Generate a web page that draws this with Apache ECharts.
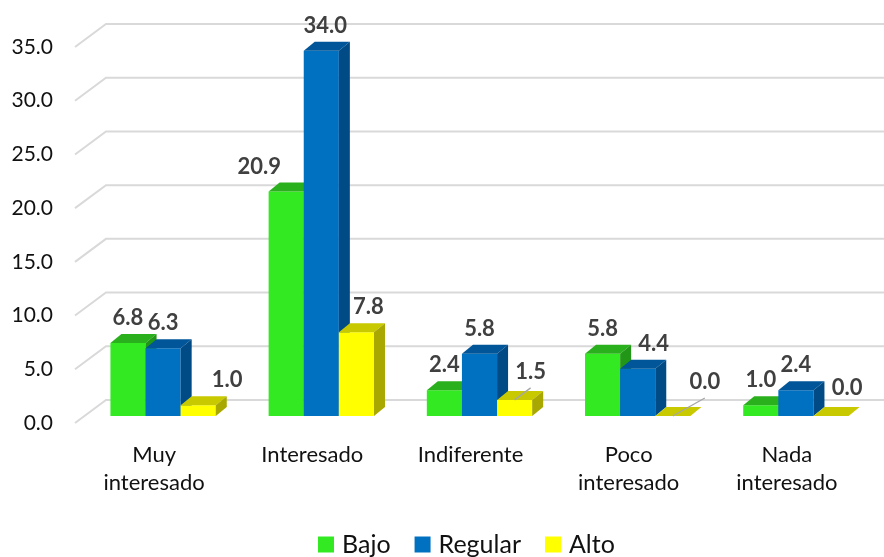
<!DOCTYPE html>
<html>
<head>
<meta charset="utf-8">
<title>Interés</title>
<script src="https://cdn.jsdelivr.net/npm/echarts/dist/echarts.min.js"></script>
<style>
  html, body { margin: 0; padding: 0; background: #fff; }
  #chart { width: 884px; height: 557px; }
</style>
</head>
<body>
<div id="chart"></div>
<script>
// datos
const categories = ['Muy\ninteresado', 'Interesado', 'Indiferente', 'Poco\ninteresado', 'Nada\ninteresado'];
const bajo = [6.8, 20.9, 2.4, 5.8, 1.0];
const regular = [6.3, 34.0, 5.8, 4.4, 2.4];
const alto = [1.0, 7.8, 1.5, 0.0, 0.0];
const yTicks = [0, 5, 10, 15, 20, 25, 30, 35];

// aspecto de cada serie (caras 3D y ajuste de etiquetas)
const looks = [
  { name: 'Bajo', values: bajo, front: '#33EA22', top: '#2AB01C', side: '#229616',
    nx: [0, -27, 0, 0, 0], ny: [0, 0, 0, 0, 0], leader: [0, 0, 0, 0, 0] },
  { name: 'Regular', values: regular, front: '#0070C0', top: '#005699', side: '#004A85',
    nx: [0, 4, 0, 16, 0], ny: [0, 0, 0, 0, 0], leader: [0, 0, 0, 0, 0] },
  { name: 'Alto', values: alto, front: '#FFFF00', top: '#C9C900', side: '#A8A800',
    nx: [29, 12, 16, 32, 16], ny: [0, 0, -3, -9, -3], leader: [0, 0, 1, 1, 0] }
];

const DX = 11, DY = 9;      // profundidad de la barra
const SHIFT_X = 9, SHIFT_Y = 7;  // barras algo detrás del plano frontal
const FONT = 'Lato';

function barItem(k) {
  const look = looks[k];
  return function (params, api) {
    const ci = api.value(0);
    const v = api.value(1);
    const base = api.coord([ci, 0]);
    const tp = api.coord([ci, v]);
    const band = api.size([1, 0])[0];
    const w = band * 0.222;
    const x = base[0] + SHIFT_X + (k - 1) * w - w / 2;
    const yb = base[1] - SHIFT_Y;
    const yt = tp[1] - SHIFT_Y;
    const z0 = k * 10;
    const children = [
      { type: 'rect', shape: { x: x, y: yt, width: w, height: yb - yt },
        style: { fill: look.front }, z2: z0 + 1 },
      { type: 'polygon', shape: { points: [[x, yt], [x + DX, yt - DY], [x + w + DX, yt - DY], [x + w, yt]] },
        style: { fill: look.top }, z2: z0 + 2 },
      { type: 'polygon', shape: { points: [[x + w, yt], [x + w + DX, yt - DY], [x + w + DX, yb - DY], [x + w, yb]] },
        style: { fill: look.side }, z2: z0 + 2 }
    ];
    const lx = x + w / 2 + look.nx[ci];
    const ly = yt - 25 + look.ny[ci];
    if (look.leader[ci]) {
      children.push({ type: 'line', shape: { x1: x + w / 2, y1: yt, x2: lx, y2: ly + 16 },
        style: { stroke: '#A6A6A6', lineWidth: 1.3 }, z2: 200 });
    }
    children.push({
      type: 'text', z2: 300,
      style: { text: v.toFixed(1), x: lx, y: ly, align: 'center', verticalAlign: 'middle',
        fill: '#404040', font: 'bold 22px ' + FONT }
    });
    return { type: 'group', children: children };
  };
}

function gridItem(params, api) {
  const cs = params.coordSys;
  const y = api.coord([0, api.value(1)])[1];
  const x0 = cs.x;
  return {
    type: 'polyline',
    shape: { points: [[x0, y], [x0 + 31, y - 23], [cs.x + cs.width + 20, y - 23]] },
    style: { stroke: '#D9D9D9', lineWidth: 2, fill: null }
  };
}

const series = [{
  type: 'custom', name: 'grid', z: 1, silent: true,
  renderItem: gridItem,
  data: yTicks.map(v => [0, v]),
  encode: { x: 0, y: 1 }
}];
looks.forEach((look, k) => {
  series.push({
    type: 'custom', name: look.name, z: 2,
    itemStyle: { color: look.front },
    renderItem: barItem(k),
    data: look.values.map((v, i) => [i, v]),
    encode: { x: 0, y: 1 }
  });
});

let myChart = echarts.init(document.getElementById('chart'));
myChart.setOption({
  animation: false,
  backgroundColor: '#fff',
  grid: { left: 75, right: 18, top: 47, bottom: 134, containLabel: false, outerBoundsMode: 'none' },
  legend: {
    data: ['Bajo', 'Regular', 'Alto'],
    top: 532, left: 318, padding: 0,
    icon: 'rect', itemWidth: 16, itemHeight: 16, itemGap: 24,
    textStyle: { fontSize: 25, fontFamily: FONT, color: '#111', padding: [0, 0, 0, 3] }
  },
  xAxis: {
    type: 'category',
    data: categories,
    axisLine: { show: false },
    axisTick: { show: false },
    splitLine: { show: false },
    axisLabel: { fontSize: 22, lineHeight: 28, color: '#111', fontFamily: FONT, margin: 18, interval: 0 }
  },
  yAxis: {
    type: 'value', min: 0, max: 35, interval: 5,
    axisLine: { show: false },
    axisTick: { show: false },
    splitLine: { show: false },
    axisLabel: { fontSize: 21, color: '#111', fontFamily: FONT, margin: 22,
      formatter: v => v.toFixed(1) }
  },
  series: series
});
</script>
</body>
</html>
